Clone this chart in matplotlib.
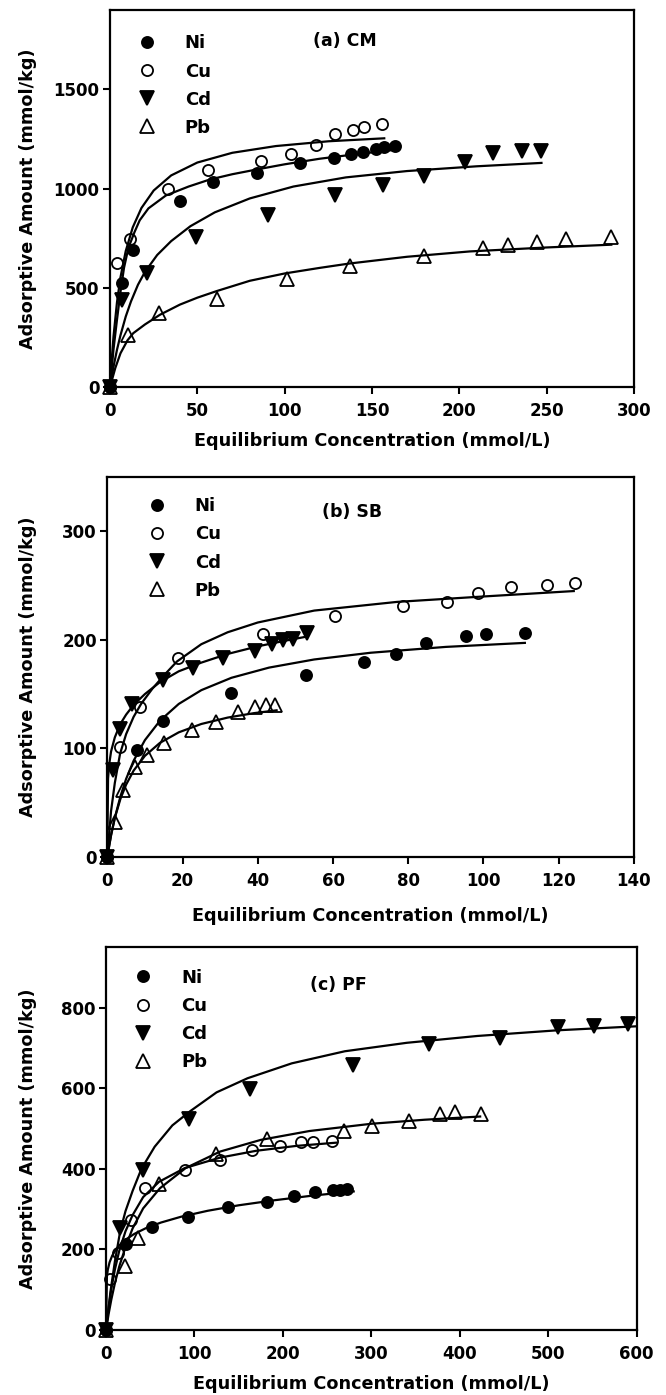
import matplotlib
matplotlib.use('Agg')
import matplotlib.pyplot as plt

plt.rcParams['font.family'] = ['DejaVu Sans']
plt.rcParams['font.weight'] = 'bold'

metals = ['Ni', 'Cu', 'Cd', 'Pb']

# ---------------- (a) CM ----------------
cm_ni_c = [0, 6.7, 13.3, 40, 58.7, 84.4, 108.6, 128, 138, 145, 152, 157, 163]
cm_ni_q = [0, 522, 691, 935, 1031, 1079, 1129, 1155, 1175, 1185, 1198, 1207, 1212]
cm_cu_c = [0, 4.2, 11.4, 33.3, 56.2, 86.7, 103.4, 118, 129, 139, 145.3, 155.8]
cm_cu_q = [0, 624, 745, 998, 1092, 1138, 1176, 1217, 1275, 1294, 1310, 1323]
cm_cd_c = [0, 6.7, 21, 49.5, 90.5, 128.6, 156, 179.6, 203, 219, 236, 247]
cm_cd_q = [0, 438, 573, 758, 868, 965, 1020, 1062, 1133, 1177, 1188, 1190]
cm_pb_c = [0, 10.5, 28.2, 61, 101.3, 137.5, 179.6, 213.3, 227.6, 244.7, 261, 286.7]
cm_pb_q = [0, 261, 371, 442, 543, 608, 658, 700, 717, 731, 746, 756]

cm_ni_fit_c = [0, 2, 4, 6, 8, 10.5, 14, 17, 22, 32, 45, 57, 70, 84, 100, 120, 140, 163]
cm_ni_fit_q = [0, 190, 340, 480, 600, 700, 780, 840, 900, 965, 1010, 1045, 1072, 1096, 1122, 1150, 1172, 1195]
cm_cu_fit_c = [0, 1, 2, 4, 6, 9, 13, 18, 25, 35, 50, 70, 95, 125, 157]
cm_cu_fit_q = [0, 141, 255, 428, 553, 685, 804, 902, 990, 1066, 1131, 1180, 1214, 1238, 1253]
cm_cd_fit_c = [0, 2, 4, 6, 9, 12, 16, 20, 27, 35, 46, 60, 80, 105, 135, 170, 210, 247]
cm_cd_fit_q = [0, 102, 188, 261, 355, 431, 515, 580, 665, 735, 810, 880, 950, 1010, 1056, 1088, 1112, 1129]
cm_pb_fit_c = [0, 3, 6, 10, 13.3, 20, 28.6, 40, 50, 61, 80, 100, 120, 137, 170, 206, 250, 287]
cm_pb_fit_q = [0, 95, 170, 235, 271, 315, 364, 415, 450, 483, 535, 572, 600, 622, 656, 683, 703, 717]

# ---------------- (b) SB ----------------
sb_ni_c = [0, 7.8, 14.9, 32.9, 52.8, 68.3, 76.7, 84.6, 95.3, 100.8, 111]
sb_ni_q = [0, 98.5, 125.5, 151, 168, 180, 187, 197, 204, 205, 206]
sb_cu_c = [0, 3.5, 8.7, 18.9, 41.5, 60.5, 78.7, 90.4, 98.5, 107.3, 116.8, 124.3]
sb_cu_q = [0, 101, 138, 183, 205, 222, 231, 235, 243, 249, 251, 252]
sb_cd_c = [0, 1.5, 3.4, 6.7, 14.7, 22.9, 30.8, 39.2, 43.7, 46.8, 49.4, 53]
sb_cd_q = [0, 80, 118, 141, 163, 174, 183, 190, 196, 200, 201, 206]
sb_pb_c = [0, 2, 4.3, 7.4, 10.5, 15, 22.4, 29, 34.8, 39.2, 42.3, 44.6]
sb_pb_q = [0, 32, 61.5, 83, 94, 104.6, 117, 124.6, 133, 138.5, 140, 140]

sb_ni_fit_c = [0, 1, 2, 3.5, 5, 7, 10, 14, 19, 25, 33, 43, 55, 70, 90, 111]
sb_ni_fit_q = [0, 19.5, 35.8, 55.7, 71.7, 88.5, 107.5, 125.4, 140.9, 153.6, 165, 174.4, 181.9, 188.1, 193.5, 197.2]
sb_cu_fit_c = [0, 1, 2, 3.4, 5, 7, 9, 12, 15, 18.5, 25, 32, 40, 55, 77, 100, 124]
sb_cu_fit_q = [0, 42, 68, 95, 113, 129, 141, 155, 167, 180, 196, 207, 216, 227, 235, 240, 245]
sb_cd_fit_c = [0, 0.2, 0.5, 1, 2, 3.4, 5, 7, 10, 14, 19, 25, 32, 40, 47, 53]
sb_cd_fit_q = [0, 72, 85, 97, 110, 122, 131, 140, 150, 161, 171, 179, 187, 194, 199, 203]
sb_pb_fit_c = [0, 1, 2, 3.5, 5, 7, 10, 14, 19, 25, 32, 39, 45]
sb_pb_fit_q = [0, 20.2, 35.8, 53.4, 66.4, 79.4, 93, 105, 114.7, 122.4, 128.3, 132.4, 135]

# ---------------- (c) PF ----------------
pf_ni_c = [0, 23, 51.6, 93, 137.6, 181.7, 212, 236, 257, 265, 272]
pf_ni_q = [0, 213, 255, 280, 305, 317, 332, 342, 347, 348, 350]
pf_cu_c = [0, 4, 14, 28, 44, 89, 129, 165, 197, 221, 234, 255]
pf_cu_q = [0, 126, 192, 272, 352, 398, 423, 447, 458, 466, 467, 468]
pf_cd_c = [0, 16, 41.5, 94.2, 162.8, 279, 365, 445, 511, 552, 590]
pf_cd_q = [0, 252, 398, 524, 599, 659, 709, 724, 752, 755, 759]
pf_pb_c = [0, 21.5, 36, 60, 124.4, 181.7, 269.5, 301, 342.6, 377.6, 394.6, 424]
pf_pb_q = [0, 158, 228, 362, 438, 474, 493, 506, 518, 536, 541, 537]

pf_ni_fit_c = [0, 1, 2, 4, 7, 11, 16, 23, 32, 45, 62, 85, 115, 150, 190, 235, 280]
pf_ni_fit_q = [0, 133, 149.5, 168, 184.6, 199.3, 212.3, 225.7, 238.6, 252.7, 266.7, 281.3, 296, 309.6, 322, 334, 344]
pf_cu_fit_c = [0, 3, 6, 10, 15, 22, 30, 42, 60, 89, 129, 170, 215, 260]
pf_cu_fit_q = [0, 57, 102, 150, 197, 245, 285, 330, 368, 402, 428, 445, 457, 465]
pf_cd_fit_c = [0, 5, 10, 16, 22, 30, 40, 55, 75, 95, 125, 160, 210, 270, 340, 420, 510, 600]
pf_cd_fit_q = [0, 95, 170, 245, 295, 345, 400, 455, 508, 543, 590, 625, 662, 692, 713, 730, 744, 754]
pf_pb_fit_c = [0, 3, 6, 10, 15, 22, 30, 42, 61, 90, 129, 175, 230, 300, 360, 423]
pf_pb_fit_q = [0, 40.5, 75.7, 116, 158, 206, 252, 302, 352, 402, 443, 472, 494, 512, 522, 530]

# axis settings
xlims = [(0, 300), (0, 140), (0, 600)]
ylims = [(0, 1900), (0, 350), (0, 950)]
xticks = [[0, 50, 100, 150, 200, 250, 300],
          [0, 20, 40, 60, 80, 100, 120, 140],
          [0, 100, 200, 300, 400, 500, 600]]
yticks = [[0, 500, 1000, 1500],
          [0, 100, 200, 300],
          [0, 200, 400, 600, 800]]
titles = ['(a) CM', '(b) SB', '(c) PF']

panels = [
    dict(pts=[(cm_ni_c, cm_ni_q), (cm_cu_c, cm_cu_q), (cm_cd_c, cm_cd_q), (cm_pb_c, cm_pb_q)],
         fits=[(cm_ni_fit_c, cm_ni_fit_q), (cm_cu_fit_c, cm_cu_fit_q), (cm_cd_fit_c, cm_cd_fit_q), (cm_pb_fit_c, cm_pb_fit_q)]),
    dict(pts=[(sb_ni_c, sb_ni_q), (sb_cu_c, sb_cu_q), (sb_cd_c, sb_cd_q), (sb_pb_c, sb_pb_q)],
         fits=[(sb_ni_fit_c, sb_ni_fit_q), (sb_cu_fit_c, sb_cu_fit_q), (sb_cd_fit_c, sb_cd_fit_q), (sb_pb_fit_c, sb_pb_fit_q)]),
    dict(pts=[(pf_ni_c, pf_ni_q), (pf_cu_c, pf_cu_q), (pf_cd_c, pf_cd_q), (pf_pb_c, pf_pb_q)],
         fits=[(pf_ni_fit_c, pf_ni_fit_q), (pf_cu_fit_c, pf_cu_fit_q), (pf_cd_fit_c, pf_cd_fit_q), (pf_pb_fit_c, pf_pb_fit_q)]),
]

styles = {
    'Ni': dict(marker='o', mfc='black', mec='black', ms=8),
    'Cu': dict(marker='o', mfc='none', mec='black', ms=8),
    'Cd': dict(marker='v', mfc='black', mec='black', ms=10),
    'Pb': dict(marker='^', mfc='none', mec='black', ms=10),
}

# axes rectangles [left, bottom, width, height] in figure fraction
rects = [[0.1652, 0.7226, 0.7868, 0.2703],
         [0.1611, 0.3859, 0.7908, 0.2720],
         [0.1592, 0.0466, 0.7968, 0.2743]]
title_pos = [(0.449, 0.918), (0.464, 0.909), (0.438, 0.901)]
legend_pos = [(0.053, 0.935), (0.0767, 0.947), (0.0533, 0.944)]
ylabel_x = [-0.139, -0.1335, -0.130]
xlabel_y = [-0.119, -0.132, -0.1176]

fig = plt.figure(figsize=(6.66, 13.95), dpi=100)

for i, p in enumerate(panels):
    ax = fig.add_axes(rects[i])
    for (fc, fq) in p['fits']:
        ax.plot(fc, fq, color='black', lw=1.6, zorder=2, clip_on=False)
    for m, (c, q) in zip(metals, p['pts']):
        ax.plot(c, q, ls='none', mew=1.3, label=m, zorder=3, clip_on=False, **styles[m])
    ax.set_xlim(*xlims[i])
    ax.set_ylim(*ylims[i])
    ax.set_xticks(xticks[i])
    ax.set_yticks(yticks[i])
    for s in ax.spines.values():
        s.set_linewidth(1.6)
    ax.tick_params(axis='both', direction='out', length=5, width=1.5, labelsize=12)
    ax.tick_params(axis='x', pad=6)
    ax.tick_params(axis='y', pad=2.5)
    for lab in ax.get_xticklabels() + ax.get_yticklabels():
        lab.set_fontweight('bold')
    ax.set_xlabel('Equilibrium Concentration (mmol/L)', fontsize=12.7, fontweight='bold')
    ax.set_ylabel('Adsorptive Amount (mmol/kg)', fontsize=12.7, fontweight='bold')
    ax.xaxis.set_label_coords(0.5, xlabel_y[i])
    ax.yaxis.set_label_coords(ylabel_x[i], 0.5)
    ax.text(title_pos[i][0], title_pos[i][1], titles[i], transform=ax.transAxes,
            ha='center', va='center', fontsize=12.5, fontweight='bold')
    ax.legend(loc='upper left', bbox_to_anchor=legend_pos[i], frameon=False,
              borderaxespad=0, borderpad=0, handlelength=1.0, handletextpad=1.6,
              labelspacing=0.56, prop={'size': 13, 'weight': 'bold'})

fig.savefig('out.png', dpi=100)
